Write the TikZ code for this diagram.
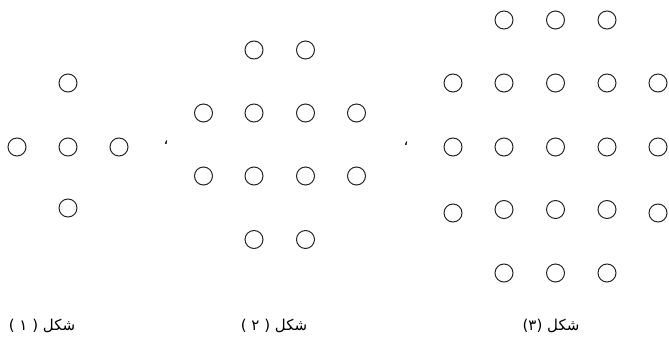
\documentclass[tikz,border=0pt]{standalone}
\usepackage{fontspec}
\newfontfamily\arabicfont[Script=Arabic]{DejaVu Sans}
\TeXXeTstate=1
\tikzset{
  dot/.style={circle, draw=black!85, line width=1pt, minimum size=18pt, inner sep=0pt},
  caption/.style={font=\arabicfont\fontsize{15}{17}\selectfont, inner sep=0pt},
  sepmark/.style={font=\arabicfont\fontsize{15}{17}\selectfont, inner sep=0pt}
}
\begin{document}
\begin{tikzpicture}[x=1pt,y=-1pt]
\useasboundingbox (0,0) rectangle (669,340);
% figure 1
\node[dot] (a1) at (68,83) {};
\node[dot] (a2) at (17,147) {};
\node[dot] (a3) at (68,147) {};
\node[dot] (a4) at (119,147) {};
\node[dot] (a5) at (68,208) {};
% figure 2
\foreach \x/\n in {254/1,305.5/2} {\node[dot] (b1\n) at (\x,50) {};}
\foreach \x/\n in {203.5/1,254/2,305.5/3,356.5/4} {
  \node[dot] (b2\n) at (\x,113) {};
  \node[dot] (b3\n) at (\x,176) {};
}
\foreach \x/\n in {254/1,305.5/2} {\node[dot] (b4\n) at (\x,239.5) {};}
% figure 3
\foreach \x/\n in {504/1,555.5/2,607/3} {\node[dot] (c1\n) at (\x,20) {};}
\foreach \x/\n in {453/1,504/2,555.5/3,607/4,658/5} {
  \node[dot] (c2\n) at (\x,83) {};
  \node[dot] (c3\n) at (\x,147) {};
}
\node[dot] (c41) at (453,213) {};
\foreach \x/\n in {504/2,555.5/3,607/4} {\node[dot] (c4\n) at (\x,209.5) {};}
\node[dot] (c45) at (658,213) {};
\foreach \x/\n in {504/1,555.5/2,607/3} {\node[dot] (c5\n) at (\x,273) {};}
% separators
\node[sepmark] (s1) at (166,143) {\beginR ،\endR};
\node[sepmark] (s2) at (406,144) {\beginR ،\endR};
% captions
\node[caption] (l1) at (42,326) {\beginR شکل ( ۱ )\endR};
\node[caption] (l2) at (274,326) {\beginR شکل ( ۲ )\endR};
\node[caption] (l3) at (551,326) {\beginR شکل (۳)\endR};
\end{tikzpicture}
\end{document}
